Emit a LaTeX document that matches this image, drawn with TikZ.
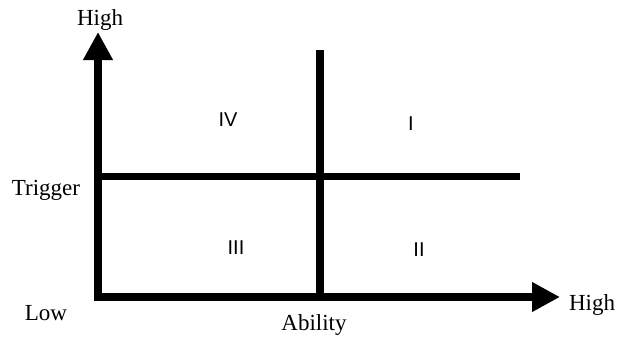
\documentclass[tikz,border=0pt]{standalone}
\usepackage{fontspec}
\setmainfont{Liberation Serif}
\newfontfamily\numfont{Liberation Sans}
\usetikzlibrary{arrows.meta}
\tikzset{
  axis/.style={line width=8pt, -{Triangle[length=28pt,width=28pt]}},
  divider/.style={line width=7.5pt},
  axislabel/.style={inner sep=0pt, font=\fontsize{23}{27}\selectfont},
  quadrant/.style={inner sep=0pt, font=\numfont\fontsize{20}{24}\selectfont}
}
\begin{document}
\begin{tikzpicture}[x=1pt,y=-1pt]
    \useasboundingbox (0,0) rectangle (620,337);
    % axes
    \coordinate (origin) at (98,301);
    \coordinate (ytip) at (98,32);
    \coordinate (xstart) at (94,297);
    \coordinate (xtip) at (560,297);
    \draw [axis] (origin) -- (ytip);
    \draw [axis] (xstart) -- (xtip);
    % quadrant lines
    \coordinate (hleft) at (98,176.5);
    \coordinate (hright) at (520,176.5);
    \coordinate (vtop) at (320,50);
    \coordinate (vbottom) at (320,301);
    \draw [divider] (hleft) -- (hright);
    \draw [divider] (vtop) -- (vbottom);
    % axis labels
    \node [axislabel] (yhigh) at (100,20) {High};
    \node [axislabel] (trigger) at (46,190) {Trigger};
    \node [axislabel] (low) at (46,313) {Low};
    \node [axislabel] (ability) at (314,325) {Ability};
    \node [axislabel] (xhigh) at (592,305) {High};
    % quadrants
    \node [quadrant] (qfour) at (228,120) {IV};
    \node [quadrant] (qone) at (411,124) {I};
    \node [quadrant] (qthree) at (236,248) {III};
    \node [quadrant] (qtwo) at (419,250) {II};
\end{tikzpicture}
\end{document}
